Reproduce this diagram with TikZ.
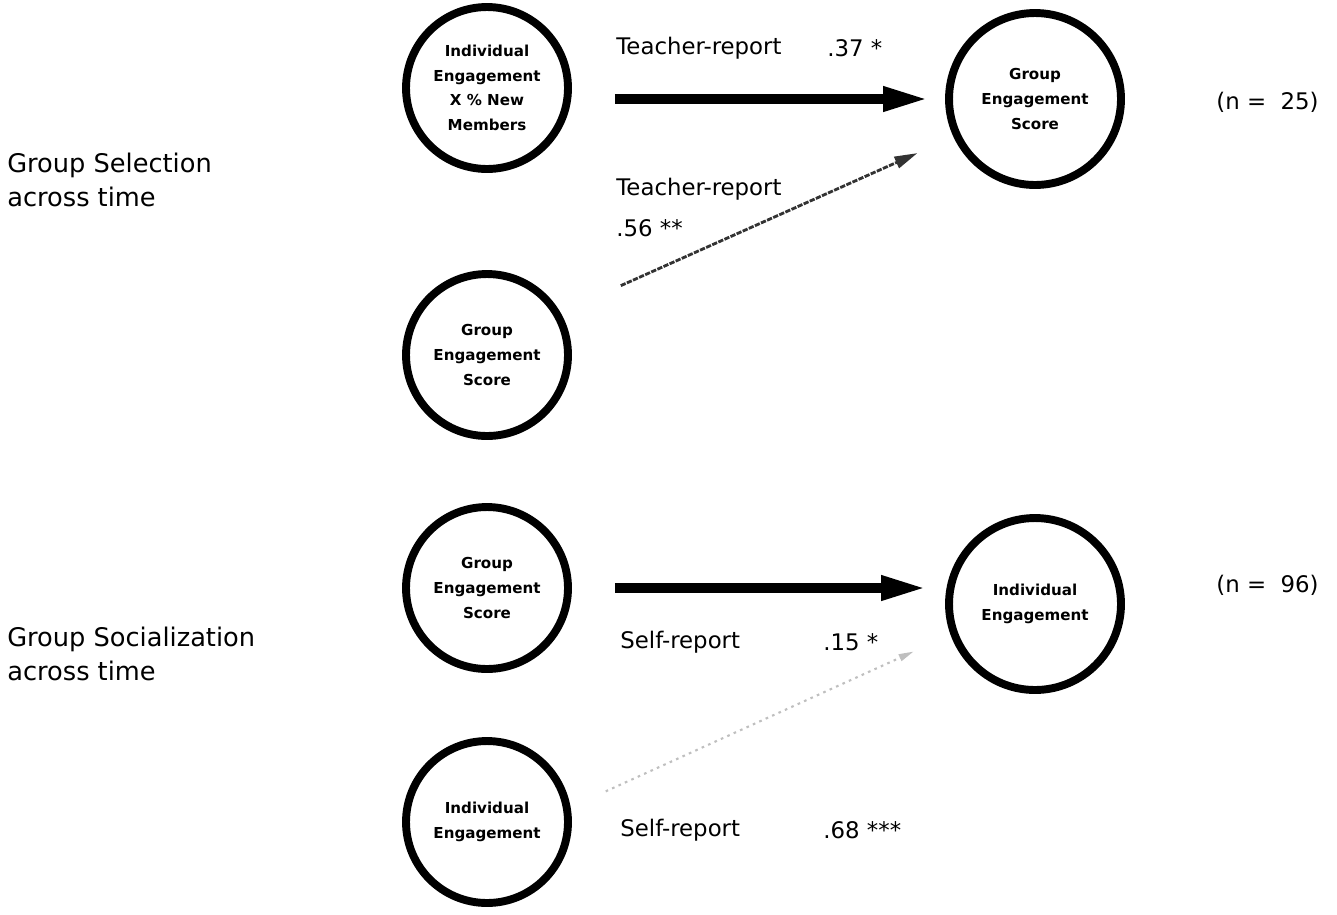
\documentclass[tikz,border=0pt]{standalone}
\usepackage{fontspec}
\setmainfont{DejaVu Sans}
\usetikzlibrary{arrows.meta}

\tikzset{
	factor/.style = {circle, draw, line width = 4.5pt, minimum size = 3.24cm, inner sep = 0pt,
		align = center, font = \bfseries\fontsize{8.6}{14}\selectfont},
	bigfactor/.style = {factor, minimum size = 3.44cm},
	strongpath/.style = {line width = 5.4pt, -{Triangle[length = 0.9cm, width = 0.46cm]}},
	weakpath/.style = {line width = 1.6pt, black!80, dash pattern = on 3pt off 0.8pt,
		-{Triangle[length = 0.46cm, width = 0.24cm]}},
	fadedpath/.style = {line width = 1.2pt, black!25, dash pattern = on 1.5pt off 2.5pt,
		-{Triangle[length = 0.3cm, width = 0.14cm]}},
	coef/.style = {anchor = west, inner sep = 0pt, font = \fontsize{13}{15}\selectfont},
	side/.style = {anchor = west, inner sep = 0pt, align = left, font = \fontsize{14.6}{19.5}\selectfont}
}

\begin{document}
\begin{tikzpicture}[x = 0.02cm, y = -0.02cm]
	\useasboundingbox (0,0) rectangle (1337,914);

	% group selection
	\node[side] (sel) at (7, 180) {Group Selection\\across time};
	\node[factor] (indx) at (487, 88) {Individual\\Engagement\\X \% New\\Members};
	\node[factor] (grpin) at (487, 355) {Group\\Engagement\\Score};
	\node[bigfactor] (grpout) at (1035, 99) {Group\\Engagement\\Score};

	\draw[strongpath, shorten <= 0.86cm, shorten >= 0.34cm] (indx.east |- grpout.west) -- (grpout.west);
	\draw[weakpath, shorten <= 1.32cm, shorten >= 0.79cm] (grpin.30) -- (grpout.205);

	\node[coef] (tr1) at (616, 48) {Teacher-report};
	\node[coef] (b1) at (827, 48) {.37 *};
	\node[coef] (tr2) at (616, 189) {Teacher-report};
	\node[coef] (b2) at (616, 228) {.56 **};
	\node[coef] (n1) at (1216, 102) {(n = \ 25)};

	% group socialization
	\node[side] (soc) at (7, 654) {Group Socialization\\across time};
	\node[factor] (grpsoc) at (487, 588) {Group\\Engagement\\Score};
	\node[factor] (indin) at (487, 822) {Individual\\Engagement};
	\node[bigfactor] (indout) at (1035, 604) {Individual\\Engagement};

	\draw[strongpath, shorten <= 0.86cm, shorten >= 0.38cm] (grpsoc.east) -- (grpsoc.east -| indout.west);
	\draw[fadedpath, shorten <= 0.77cm, shorten >= 0.81cm] (indin.10) -- (indout.200);

	\node[coef] (sr1) at (620, 642) {Self-report};
	\node[coef] (b3) at (823, 642) {.15 *};
	\node[coef] (sr2) at (620, 830) {Self-report};
	\node[coef] (b4) at (823, 830) {.68 ***};
	\node[coef] (n2) at (1216, 585) {(n = \ 96)};
\end{tikzpicture}
\end{document}
